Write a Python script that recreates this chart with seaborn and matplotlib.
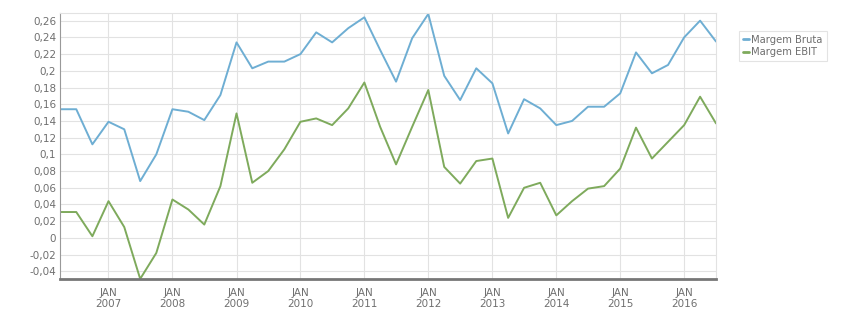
import numpy as np
import pandas as pd
import matplotlib
matplotlib.use("Agg")
import matplotlib.pyplot as plt
import matplotlib.dates as mdates
from matplotlib.ticker import FixedLocator, FuncFormatter
import seaborn as sns

dates = pd.date_range("2006-04-01", "2016-07-01", freq="QS")

margem_bruta = [0.154, 0.154, 0.112, 0.139, 0.130, 0.068, 0.100,
                0.154, 0.151, 0.141, 0.171, 0.234,
                0.203, 0.211, 0.211, 0.220, 0.246, 0.234, 0.251,
                0.264, 0.225, 0.187, 0.239, 0.268, 0.194, 0.165, 0.203,
                0.185, 0.125, 0.166, 0.155, 0.135, 0.140, 0.157, 0.157,
                0.173, 0.222, 0.197, 0.207, 0.240, 0.260, 0.235]

margem_ebit = [0.031, 0.031, 0.002, 0.044, 0.013, -0.049, -0.018,
               0.046, 0.034, 0.016, 0.062, 0.149,
               0.066, 0.080, 0.106, 0.139, 0.143, 0.135, 0.155,
               0.186, 0.133, 0.088, 0.133, 0.177, 0.085, 0.065, 0.092,
               0.095, 0.024, 0.060, 0.066, 0.027, 0.044, 0.059, 0.062,
               0.083, 0.132, 0.095, 0.115, 0.135, 0.169, 0.137]

series_names = ["Margem Bruta", "Margem EBIT"]
colors = ["#6eaed3", "#7eaa5c"]
y_ticks = [-0.04, -0.02, 0, 0.02, 0.04, 0.06, 0.08, 0.10, 0.12, 0.14,
           0.16, 0.18, 0.20, 0.22, 0.24, 0.26]
years = list(range(2007, 2017))

df = pd.concat([
    pd.DataFrame({"date": dates, "value": margem_bruta, "serie": series_names[0]}),
    pd.DataFrame({"date": dates, "value": margem_ebit, "serie": series_names[1]}),
])

sns.set_style("white")
plt.rcParams["font.family"] = ["DejaVu Sans"]

fig = plt.figure(figsize=(8.51, 3.13), dpi=100)
ax = fig.add_axes([0.0709, 0.1077, 0.7705, 0.8498])

sns.lineplot(data=df, x="date", y="value", hue="serie",
             palette=dict(zip(series_names, colors)), linewidth=1.4,
             ax=ax, legend=True)

ax.set_xlim(dates[0], dates[-1])
ax.set_ylim(-0.0495, 0.2688)

def fmt(v, pos):
    s = f"{v:.2f}".rstrip("0").rstrip(".")
    if s in ("-0", ""):
        s = "0"
    return s.replace(".", ",")

ax.yaxis.set_major_locator(FixedLocator(y_ticks))
ax.yaxis.set_major_formatter(FuncFormatter(fmt))
jan = [pd.Timestamp(f"{y}-01-01") for y in years]
ax.set_xticks([mdates.date2num(d) for d in jan])
ax.set_xticklabels([f"JAN\n{y}" for y in years])

ax.grid(True, color="#e2e2e2", linewidth=0.8)
ax.set_axisbelow(True)
ax.tick_params(axis="y", length=0, labelsize=7.5, labelcolor="#6f6f6f", pad=3)
ax.tick_params(axis="x", length=4, width=0.8, color="#777777", labelsize=7.5,
               labelcolor="#6f6f6f", pad=2, direction="out")
ax.set_xlabel("")
ax.set_ylabel("")
for s in ["top", "right"]:
    ax.spines[s].set_color("#e2e2e2")
    ax.spines[s].set_linewidth(0.8)
ax.spines["left"].set_color("#999999")
ax.spines["left"].set_linewidth(0.8)
ax.spines["bottom"].set_color("#777777")
ax.spines["bottom"].set_linewidth(2)

leg = ax.legend(loc="upper left", bbox_to_anchor=(0.868, 0.902),
                bbox_transform=fig.transFigure, frameon=True, fontsize=7.2,
                handlelength=0.6, handletextpad=0.25, borderpad=0.4,
                borderaxespad=0, labelspacing=0.25, fancybox=False)
leg.get_frame().set_edgecolor("#dddddd")
leg.get_frame().set_linewidth(0.8)
for t in leg.get_texts():
    t.set_color("#6f6f6f")
for l in leg.get_lines():
    l.set_linewidth(2)

fig.savefig("out.png", dpi=100)
